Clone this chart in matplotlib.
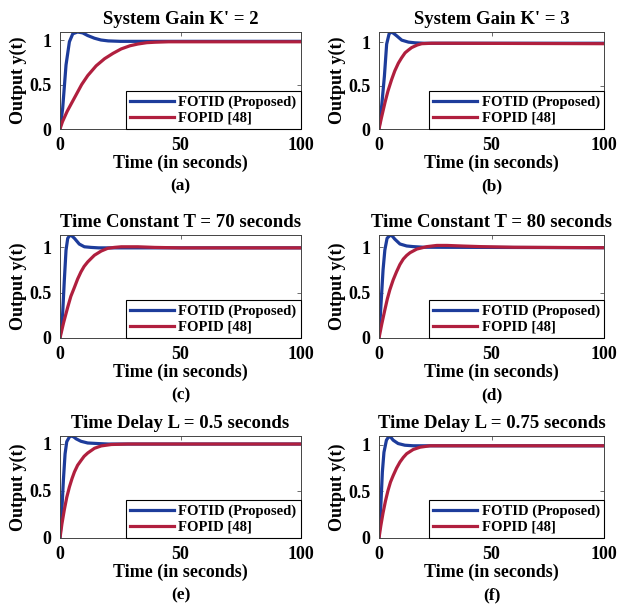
import matplotlib
matplotlib.use("Agg")
import matplotlib.pyplot as plt

plt.rcParams['font.family'] = ['Liberation Serif', 'DejaVu Serif']
plt.rcParams['font.weight'] = 'bold'

blue_a_t = [0, 1.1, 2.5, 3.9, 5.3, 7.3, 9.4, 11.5, 14.3, 17, 20, 25, 30, 40, 60, 100]
blue_a_y = [0, 0.23, 0.72, 0.98, 1.07, 1.09, 1.08, 1.05, 1.02, 1.0, 0.99, 0.985, 0.985, 0.985, 0.985, 0.985]
red_a_t = [0, 1, 3, 6, 9, 11.5, 15, 18.5, 22, 25.4, 29, 32.3, 36, 39.3, 45, 55, 70, 100]
red_a_y = [0, 0.08, 0.2, 0.35, 0.5, 0.6, 0.71, 0.79, 0.85, 0.9, 0.935, 0.955, 0.97, 0.975, 0.98, 0.98, 0.98, 0.98]

blue_b_t = [0, 1.2, 2.4, 3.4, 4.5, 5.6, 6.7, 7.9, 10.1, 13.1, 16, 20, 30, 100]
blue_b_y = [0, 0.27, 0.61, 0.98, 1.10, 1.12, 1.10, 1.075, 1.026, 1.003, 0.995, 0.99, 0.99, 0.99]
red_b_t = [0, 1, 2.7, 4, 5.6, 7, 8.6, 10, 11.6, 13, 14.5, 17, 19, 23.4, 30, 100]
red_b_y = [0, 0.12, 0.31, 0.44, 0.57, 0.67, 0.76, 0.82, 0.88, 0.91, 0.94, 0.97, 0.985, 0.99, 0.99, 0.985]

blue_c_t = [0, 1.1, 1.8, 2.5, 3.2, 4.2, 5.0, 6.0, 8.0, 10.1, 12.9, 16, 100]
blue_c_y = [0, 0.27, 0.64, 0.97, 1.10, 1.137, 1.125, 1.10, 1.037, 1.007, 1.0, 0.995, 0.995]
red_c_t = [0, 1.5, 3.2, 4.5, 6.0, 7.3, 8.7, 10, 11.5, 13, 14.3, 17.1, 19.8, 22.5, 25.4, 32.3, 39.3, 50, 100]
red_c_y = [0, 0.17, 0.34, 0.46, 0.56, 0.65, 0.73, 0.79, 0.84, 0.88, 0.914, 0.96, 0.99, 1.0, 1.007, 1.007, 1.0, 0.995, 0.995]

blue_d_t = [0, 1.1, 1.8, 2.6, 3.6, 5.1, 6.0, 7.0, 9.3, 12.3, 15.2, 20, 100]
blue_d_y = [0, 0.46, 0.75, 0.97, 1.10, 1.135, 1.12, 1.09, 1.036, 1.014, 1.007, 1.0, 0.995]
red_d_t = [0, 1.2, 2.6, 3.7, 4.8, 6.3, 7.8, 9.3, 10.8, 12.3, 13.8, 16.8, 21.3, 25.7, 30.2, 37.7, 45.2, 60, 100]
red_d_y = [0, 0.15, 0.31, 0.43, 0.53, 0.64, 0.73, 0.81, 0.87, 0.91, 0.94, 0.98, 1.007, 1.02, 1.02, 1.013, 1.007, 1.0, 0.995]

blue_e_t = [0, 0.7, 1.4, 2.1, 2.8, 3.9, 4.8, 5.7, 6.7, 8.7, 11.5, 15.7, 20, 100]
blue_e_y = [0, 0.26, 0.61, 0.89, 1.02, 1.07, 1.08, 1.07, 1.05, 1.024, 1.006, 1.0, 0.995, 0.995]
red_e_t = [0, 0.8, 1.8, 2.8, 3.9, 5, 6.0, 7.3, 8.7, 10, 11.5, 14.3, 17.1, 21.3, 28.2, 100]
red_e_y = [0, 0.15, 0.30, 0.43, 0.54, 0.63, 0.70, 0.77, 0.82, 0.865, 0.90, 0.95, 0.975, 0.99, 0.995, 0.995]

blue_f_t = [0, 0.8, 1.5, 2.2, 3.3, 4.5, 5.3, 6.3, 8.5, 11.5, 15.2, 100]
blue_f_y = [0, 0.34, 0.71, 0.92, 1.05, 1.095, 1.08, 1.05, 1.014, 0.996, 0.99, 0.99]
red_f_t = [0, 0.8, 1.8, 2.9, 4.0, 5.1, 6.3, 7.8, 9.3, 10.8, 12.3, 15.2, 18.3, 22.7, 28.7, 100]
red_f_y = [0, 0.13, 0.27, 0.40, 0.51, 0.60, 0.67, 0.75, 0.815, 0.865, 0.905, 0.95, 0.975, 0.99, 0.99, 0.99]

titles = ["System Gain K' = 2", "System Gain K' = 3",
          "Time Constant T = 70 seconds", "Time Constant T = 80 seconds",
          "Time Delay L = 0.5 seconds", "Time Delay L = 0.75 seconds"]
letters = ["(a)", "(b)", "(c)", "(d)", "(e)", "(f)"]
series = [(blue_a_t, blue_a_y, red_a_t, red_a_y),
          (blue_b_t, blue_b_y, red_b_t, red_b_y),
          (blue_c_t, blue_c_y, red_c_t, red_c_y),
          (blue_d_t, blue_d_y, red_d_t, red_d_y),
          (blue_e_t, blue_e_y, red_e_t, red_e_y),
          (blue_f_t, blue_f_y, red_f_t, red_f_y)]

W, H = 619, 606
fig = plt.figure(figsize=(W / 100, H / 100), dpi=100)

cols = [(60, 241), (379, 225)]          # left, width in px
rows = [(32, 97), (235, 103), (436, 102)]  # top, height in px

blue = '#1d3c9b'
red = '#b01f3e'

for i in range(6):
    r, c = divmod(i, 2)
    left, w = cols[c]
    top, h = rows[r]
    ax = fig.add_axes([left / W, 1 - (top + h) / H, w / W, h / H])
    bt, by, rt, ry = series[i]
    ax.plot(bt, by, color=blue, lw=2.3, label='FOTID (Proposed)')
    ax.plot(rt, ry, color=red, lw=2.3, label='FOPID [48]')
    ax.set_xlim(0, 100)
    ax.set_ylim(0, max(max(by), max(ry)))
    ax.set_xticks([0, 50, 100])
    ax.set_yticks([0, 0.5, 1])
    ax.set_yticklabels(['0', '0.5', '1'])
    ax.tick_params(direction='in', length=3, width=0.6, labelsize=13, pad=6,
                   top=True, right=True, color='#555555')
    for s in ax.spines.values():
        s.set_linewidth(0.7)
        s.set_color('#444444')
    ax.set_title(titles[i], fontsize=13.5, fontweight='bold', pad=6)
    ax.set_xlabel('Time (in seconds)', fontsize=13, fontweight='bold')
    ax.xaxis.set_label_coords(0.5, -34 / h)
    ax.xaxis.label.set_va('center')
    ax.set_ylabel('Output y(t)', fontsize=13, fontweight='bold')
    ax.yaxis.set_label_coords(-42 / w, 0.5)
    ax.yaxis.label.set_va('center')
    ax.text(0.5, -57 / h, letters[i], transform=ax.transAxes, ha='center',
            va='center', fontsize=12.5, fontweight='bold')
    leg = ax.legend(loc='lower right', borderaxespad=0, fontsize=10.5,
                    handlelength=3.0, handletextpad=0.3, labelspacing=0.15,
                    borderpad=0.3, fancybox=False, framealpha=1)
    leg.get_frame().set_edgecolor('black')
    leg.get_frame().set_linewidth(0.8)

fig.savefig('out.png', dpi=100)
